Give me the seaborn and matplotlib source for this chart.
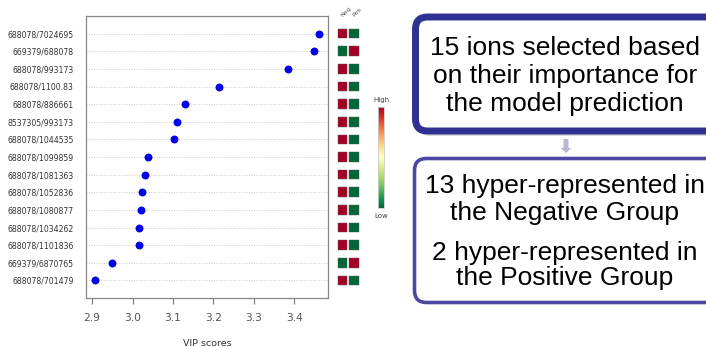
import numpy as np
import pandas as pd
import matplotlib
matplotlib.use("Agg")
import matplotlib.pyplot as plt
import seaborn as sns
from matplotlib.patches import FancyBboxPatch, FancyArrow
from matplotlib.cm import ScalarMappable
from matplotlib.colors import Normalize

# ions, top to bottom
ions = ["688078/7024695", "669379/688078", "688078/993173", "688078/1100.83",
        "688078/886661", "8537305/993173", "688078/1044535", "688078/1099859",
        "688078/1081363", "688078/1052836", "688078/1080877", "688078/1034262",
        "688078/1101836", "669379/6870765", "688078/701479"]
vip = [3.460, 3.449, 3.384, 3.214, 3.130, 3.109, 3.103, 3.037,
       3.031, 3.024, 3.022, 3.016, 3.015, 2.949, 2.907]
# relative level in each group (1 = high, 0 = low)
neg_level = [1, 0, 1, 1, 1, 1, 1, 1, 1, 1, 1, 1, 1, 0, 1]
pos_level = [0, 1, 0, 0, 0, 0, 0, 0, 0, 0, 0, 0, 0, 1, 0]
groups = ["Neg", "Pos"]
xticks = [2.9, 3.0, 3.1, 3.2, 3.3, 3.4]

box1_lines = ["15 ions selected based", "on their importance for", "the model prediction"]
box2_lines = ["13 hyper-represented in", "the Negative Group",
              "2 hyper-represented in", "the Positive Group"]

sns.set_style("white")
plt.rcParams["font.family"] = ["DejaVu Sans"]

W, H = 706, 347
fig = plt.figure(figsize=(W / 100, H / 100), dpi=100)


def px_axes(left, top, right, bottom):
    return fig.add_axes([left / W, 1 - bottom / H, (right - left) / W, (bottom - top) / H])


# overlay for the boxes on the right
ov = px_axes(0, 0, W, H)
ov.set_xlim(0, W)
ov.set_ylim(H, 0)
ov.axis("off")

# --- dot chart of VIP scores
ax = px_axes(86, 16, 328, 298)
sns.stripplot(x=vip, y=ions, order=ions, jitter=False, color="#0000e6",
              size=5.7, linewidth=0, ax=ax, zorder=3)
ax.set_ylim(15, -1)
ax.set_xlim(2.885, 3.483)
ax.set_xticks(xticks)
ax.set_xticklabels([f"{t:.1f}" for t in xticks])
ax.yaxis.grid(True, linestyle=(0, (1, 2)), color="#bbbbbb", lw=0.6)
ax.tick_params(axis="y", length=0, labelsize=5.6, labelcolor="#333333", pad=9)
ax.tick_params(axis="x", length=4, width=0.8, color="#777777", labelsize=7.7,
               labelcolor="#555555", pad=7, bottom=True)
for sp in ax.spines.values():
    sp.set_color("#888888")
    sp.set_linewidth(0.9)
ax.set_xlabel("VIP scores", fontsize=6.8, color="#333333", labelpad=11)
ax.set_ylabel("")

# --- Neg / Pos level squares
long = pd.DataFrame({
    "ion": ions * 2,
    "group": [groups[0]] * len(ions) + [groups[1]] * len(ions),
    "level": neg_level + pos_level,
})
hm = px_axes(336.6, 16, 360.2, 298)
sns.scatterplot(data=long, x="group", y="ion", hue="level", palette="RdYlGn_r",
                hue_norm=(0, 1), marker="s", s=48, edgecolor="#555555",
                linewidth=0.3, legend=False, ax=hm)
hm.set_xlim(-0.5, 1.5)
hm.set_ylim(15, -1)
hm.axis("off")
for i, g in enumerate(groups):
    hm.text(i - 0.2, -0.9, g, rotation=45, fontsize=4.6, color="#555555",
            ha="left", va="bottom")

# --- colour key
cax = px_axes(377.7, 106.7, 384.3, 208)
cb = fig.colorbar(ScalarMappable(norm=Normalize(0, 1), cmap="RdYlGn_r"), cax=cax)
cb.set_ticks([])
cb.outline.set_edgecolor("#cccccc")
cb.outline.set_linewidth(0.6)
ov.text(381, 100, "High", fontsize=5, color="#444444", ha="center", va="center")
ov.text(381, 216, "Low", fontsize=5, color="#444444", ha="center", va="center")

# --- right hand boxes (run past the right edge, as in the slide)
ov.add_patch(FancyBboxPatch((418, 21), 400, 115, boxstyle="round,pad=0,rounding_size=12",
                            fc="#dadada", ec="none", clip_on=False))
ov.add_patch(FancyBboxPatch((415.5, 17), 400, 114, boxstyle="round,pad=0,rounding_size=12",
                            fc="white", ec="#2e3191", lw=5, clip_on=False))
ov.add_patch(FancyArrow(566, 139, 0, 9, width=5, head_width=11, head_length=5,
                        color="#b8b8d4", lw=0, clip_on=False))
ov.add_patch(FancyBboxPatch((414.5, 158.5), 400, 144, boxstyle="round,pad=0,rounding_size=12",
                            fc="white", ec="#4a48a0", lw=2.6, clip_on=False))

for line, yb in zip(box1_lines, [55, 83, 111]):
    ov.text(565, yb, line, ha="center", va="baseline", fontsize=19,
            family="Liberation Sans", color="black")
for line, yb in zip(box2_lines, [193, 220, 260, 285]):
    ov.text(565, yb, line, ha="center", va="baseline", fontsize=19,
            family="Liberation Sans", color="black")

fig.savefig("out.png", dpi=100)
